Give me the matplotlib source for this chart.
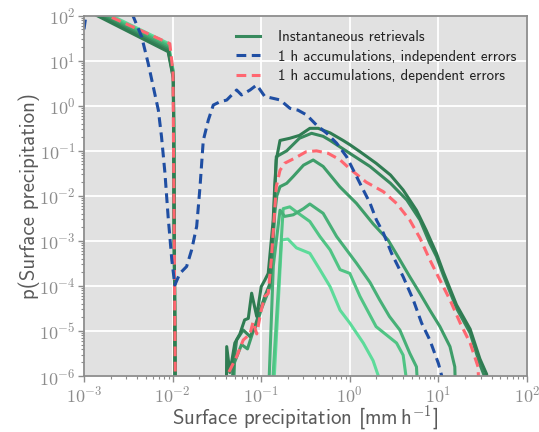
import matplotlib
matplotlib.use("Agg")
import matplotlib.pyplot as plt
from matplotlib.ticker import FuncFormatter, LogLocator
from matplotlib.lines import Line2D
import numpy as np

# ---------------- data ----------------
g1_x = [1e-3, 8.9e-3, 0.0102, 0.0108, 0.0400, 0.0408, 0.0443, 0.0504, 0.0575, 0.065, 0.0715, 0.078, 0.089, 0.1, 0.11, 0.12,
        0.1365, 0.142, 0.148, 0.163, 0.21, 0.27, 0.354, 0.44, 0.6, 0.84, 1.0, 1.3, 1.98, 2.88, 4.0, 5.65, 7.3, 9.5,
        11.4, 16, 22.8, 29.4, 35, 40]
g1_y = [141, 15.9, 4.0, 1e-8, 1e-8, 4.5e-6, 1.2e-6, 5.4e-6, 8.6e-6, 1.76e-5, 1.9e-5, 6.9e-5, 2.1e-5, 9.6e-5, 1.35e-4, 1.9e-4,
        2.9e-3, 0.016, 0.063, 0.17, 0.19, 0.22, 0.316, 0.316, 0.25, 0.17, 0.137, 0.096, 0.053, 0.029, 0.0135, 4.8e-3, 1.7e-3, 5.3e-4,
        2.0e-4, 3.8e-5, 1.1e-5, 2.4e-6, 1.1e-6, 1e-8]

g2_x = [1e-3, 8.9e-3, 0.0102, 0.0108, 0.0410, 0.0483, 0.0528, 0.0627, 0.0748, 0.085, 0.097, 0.11, 0.126, 0.137, 0.142, 0.148,
        0.194, 0.27, 0.37, 0.5, 0.6, 1.0, 1.69, 2.88, 4.4, 6.2, 8.0, 9.5, 11.4, 16, 22.8, 29.4, 33, 38]
g2_y = [150, 17.5, 4.3, 1e-8, 1e-8, 1.6e-6, 6.3e-6, 1.05e-5, 7.5e-6, 1.25e-5, 2.9e-5, 5.9e-5, 1.15e-4, 1.5e-3, 0.01, 0.074,
        0.1, 0.19, 0.245, 0.21, 0.17, 0.088, 0.045, 0.019, 8.1e-3, 2.9e-3, 8.8e-4, 4.5e-4, 1.7e-4, 3.2e-5, 9e-6, 1.8e-6, 1.0e-6, 1e-8]

g3_x = [1e-3, 8.9e-3, 0.0102, 0.0108, 0.045, 0.05, 0.06, 0.07, 0.08, 0.09, 0.1, 0.115, 0.126, 0.135, 0.142, 0.15, 0.163,
        0.194, 0.23, 0.3, 0.386, 0.5, 0.77, 1.19, 1.83, 2.7, 3.67, 4.75, 6.2, 8.0, 10.4, 13.5, 15.3, 16.5]
g3_y = [160, 19, 4.7, 1e-8, 1e-8, 2e-6, 5e-6, 4e-6, 9e-6, 1.5e-5, 3e-5, 6e-5, 1e-4, 8e-4, 4e-3, 0.01, 0.016,
        0.019, 0.027, 0.048, 0.0626, 0.045, 0.016, 6.8e-3, 2.4e-3, 1.05e-3, 3.8e-4, 1.6e-4, 6.8e-5, 2.9e-5, 1.25e-5, 4.5e-6, 1.6e-6, 1e-8]

g4_x = [1e-3, 8.9e-3, 0.0102, 0.0108, 0.113, 0.137, 0.163, 0.184, 0.23, 0.3, 0.354, 0.5, 0.71, 0.92, 1.19, 1.69, 2.16, 2.8,
        3.67, 4.75, 5.65, 6.6]
g4_y = [170, 21, 5.0, 1e-8, 1e-8, 2.8e-4, 4.8e-3, 3.5e-3, 3.8e-3, 5.2e-3, 6.6e-3, 4.1e-3, 1.25e-3, 6.3e-4, 3.2e-4, 1.2e-4, 5e-5, 2.1e-5,
        1.05e-5, 3.2e-6, 1.6e-6, 1e-8]

g5_x = [1e-3, 8.9e-3, 0.0102, 0.0108, 0.118, 0.177, 0.21, 0.25, 0.354, 0.46, 0.6, 0.776, 1.0, 1.3, 1.98, 3.37, 4.0, 4.3, 4.5]
g5_y = [185, 22.5, 5.4, 1e-8, 1e-8, 5.2e-3, 5.7e-3, 4.4e-3, 2.7e-3, 1.25e-3, 6.3e-4, 2.3e-4, 1.9e-4, 5.9e-5, 1.25e-5, 5.4e-6, 2.9e-6, 1e-6, 1e-8]

g6_x = [1e-3, 8.9e-3, 0.0102, 0.0108, 0.124, 0.17, 0.2, 0.25, 0.354, 0.46, 0.6, 0.776, 1.0, 1.42, 1.83, 2.1, 2.3]
g6_y = [200, 24.4, 5.8, 1e-8, 1e-8, 1.05e-3, 1.1e-3, 7e-4, 5.3e-4, 2.3e-4, 9.6e-5, 2.9e-5, 1.5e-5, 5.4e-6, 2.2e-6, 1e-6, 1e-8]

red_x = [1e-3, 9.3e-3, 0.0101, 0.0109, 0.041, 0.043, 0.0528, 0.0627, 0.0748, 0.081, 0.089, 0.1, 0.11, 0.12, 0.13, 0.137, 0.148,
         0.163, 0.184, 0.24, 0.32, 0.42, 0.57, 0.776, 1.0, 1.53, 2.39, 3.37, 4.75, 6.2, 8.0, 10.4, 13.5, 17.6, 22.8, 28, 31]
red_y = [175, 24, 5.7, 1e-8, 1e-8, 1.2e-6, 2.7e-6, 6.3e-6, 8.6e-6, 1.6e-5, 8.6e-6, 2.9e-5, 5.9e-5, 6.8e-5, 3.8e-4, 1.7e-3, 0.016,
         0.037, 0.053, 0.069, 0.095, 0.1, 0.088, 0.063, 0.04, 0.0202, 0.0124, 6.8e-3, 2.9e-3, 1.15e-3, 3.8e-4, 1.35e-4, 4.9e-5, 1.5e-5, 5.4e-6, 1.6e-6, 1e-8]

blue_x = [1e-3, 1.35e-3, 3.0e-3, 3.57e-3, 4.48e-3, 5.3e-3, 6.05e-3, 6.9e-3, 7.5e-3, 8.2e-3, 8.9e-3, 9.8e-3, 0.0106, 0.0121,
          0.0144, 0.0164, 0.0187, 0.0204, 0.0222, 0.0253, 0.0288, 0.0343, 0.0408, 0.0528, 0.06, 0.0748, 0.089, 0.11, 0.12,
          0.163, 0.211, 0.26, 0.326, 0.42, 0.55, 0.71, 0.92, 1.19, 1.42, 1.69, 2.0, 2.39, 2.96, 4.0, 5.2, 6.46, 8.0, 10.0, 10.9, 12.0]
blue_y = [50, 3000, 600, 100, 34, 8.8, 2.65, 0.81, 0.206, 0.032, 3.5e-3, 3.8e-4, 1.05e-4, 1.9e-4,
          2.7e-4, 6.3e-4, 2.1e-3, 0.016, 0.17, 0.48, 1.04, 1.23, 1.34, 2.24, 1.74, 2.24, 2.9, 1.6, 1.55,
          1.35, 0.88, 0.8, 0.625, 0.375, 0.245, 0.148, 0.074, 0.027, 0.0135, 6.9e-3, 2.9e-3, 1.5e-3, 5.3e-4, 1.6e-4, 4.9e-5, 1.5e-5, 6.3e-6, 1.9e-6, 1.0e-6, 1e-8]

legend_labels = ["Instantaneous retrievals",
                 "1 h accumulations, independent errors",
                 "1 h accumulations, dependent errors"]
x_label = "Surface precipitation [mm$\\,\\mathsf{h^{-1}}$]"
y_label = "p(Surface precipitation)"

# ---------------- style ----------------
plt.rcParams['font.family'] = ['cmss10', 'DejaVu Sans']
plt.rcParams['mathtext.fontset'] = 'cm'
plt.rcParams['axes.unicode_minus'] = False

greens = ['#2f7c52', '#37895d', '#3e9d69', '#47b077', '#50c484', '#5ddb9a']
blue = '#1f4ea3'
red = '#ff6670'
axis_grey = '#8c8c8c'
label_grey = '#5a5a5a'
dash = (3.2, 1.8)

fig = plt.figure(figsize=(5.39, 4.32), dpi=100)
ax = fig.add_axes([0.1558, 0.1296, 0.822, 0.834])
ax.set_facecolor('#e1e1e1')

green_sets = [(g6_x, g6_y), (g5_x, g5_y), (g4_x, g4_y), (g3_x, g3_y), (g2_x, g2_y), (g1_x, g1_y)]
green_cols = greens[::-1]
for (gx, gy), c in zip(green_sets, green_cols):
    ax.plot(gx, gy, color=c, lw=2.2, solid_joinstyle='round')

ax.plot(red_x, red_y, color=red, lw=2.2, dashes=dash)
ax.plot(blue_x, blue_y, color=blue, lw=2.2, dashes=dash)

ax.set_xscale('log')
ax.set_yscale('log')
ax.set_xlim(1e-3, 1e2)
ax.set_ylim(1e-6, 1e2)

fmt = FuncFormatter(lambda v, p: r'$\mathsf{10^{%d}}$' % int(round(np.log10(v))))
ax.xaxis.set_major_formatter(fmt)
ax.yaxis.set_major_formatter(fmt)
ax.xaxis.set_major_locator(LogLocator(base=10, numticks=20))
ax.yaxis.set_major_locator(LogLocator(base=10, numticks=20))
ax.xaxis.set_minor_locator(LogLocator(base=10, subs=np.arange(2, 10), numticks=50))
ax.yaxis.set_minor_locator(LogLocator(base=10, subs=np.arange(2, 10), numticks=50))

ax.grid(True, which='major', color='white', lw=1.3)
ax.set_axisbelow(True)
for s in ax.spines.values():
    s.set_color(axis_grey)
    s.set_linewidth(1.3)
ax.tick_params(which='major', direction='out', length=4, width=1, color=axis_grey,
               labelcolor=axis_grey, labelsize=13, pad=2)
ax.tick_params(which='minor', direction='out', length=2.5, width=0.8, color=axis_grey)

ax.set_xlabel(x_label, fontsize=15, color=label_grey, labelpad=-1)
ax.set_ylabel(y_label, fontsize=15, color=label_grey, labelpad=-1)

handles = [Line2D([], [], color=greens[1], lw=2.2),
           Line2D([], [], color=blue, lw=2.2, dashes=dash),
           Line2D([], [], color=red, lw=2.2, dashes=dash)]
leg = ax.legend(handles, legend_labels, loc='upper right', frameon=False, fontsize=10.8,
                labelcolor='#222222', handlelength=1.6, handletextpad=1.2, borderaxespad=0.3,
                labelspacing=0.38, bbox_to_anchor=(1.0, 0.99))

fig.savefig('out.png', dpi=100)
